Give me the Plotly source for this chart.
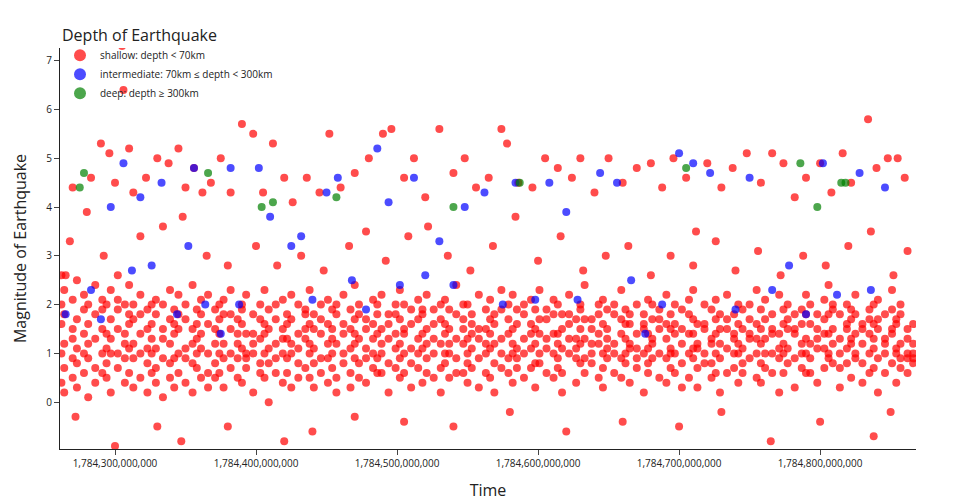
import plotly.graph_objects as go

# time offsets in units of 1e6 above 1,784,000,000,000 ; magnitudes
BASE = 1784e9

shallow_t = [265, 270, 283, 290, 296, 300, 305, 306, 310, 313, 322, 330, 338, 345, 350, 356, 362, 368, 375, 382,
             390, 398, 405, 412, 420, 426, 436, 445, 452, 460, 470, 480, 490, 496, 505, 512, 520, 530, 540, 548,
             556, 565, 574, 578, 586, 596, 605, 614, 624, 630, 640, 650, 660, 670, 680, 688, 696, 705, 712, 720,
             730, 738, 748, 758, 766, 774, 782, 790, 800, 808, 816, 822, 834, 840, 848, 855, 860,
             268, 280, 292, 302, 318, 334, 348, 365, 380, 400, 415, 432, 448, 466, 478, 492, 508, 522, 536, 552,
             568, 584, 600, 616, 632, 648, 664, 680, 694, 710, 726, 740, 756, 772, 788, 804, 820, 836, 852, 862,
             272, 300, 330, 347, 380, 420, 440, 470, 505, 540, 580, 620, 660, 700, 730, 765, 800, 838, 850]
shallow_m = [2.6, 4.4, 4.6, 5.3, 5.1, 4.5, 7.3, 6.4, 5.2, 4.3, 4.6, 5.0, 4.9, 5.2, 4.4, 4.8, 4.3, 4.5, 5.0, 4.3,
             5.7, 5.5, 4.3, 5.3, 4.6, 4.1, 4.6, 4.3, 5.5, 4.4, 4.7, 5.0, 5.5, 5.6, 4.6, 5.0, 4.2, 5.6, 4.7, 5.0,
             4.4, 4.6, 5.6, 5.3, 4.5, 4.4, 5.0, 4.8, 4.6, 5.0, 4.3, 5.0, 4.5, 4.8, 4.9, 4.4, 5.0, 4.6, 3.5, 4.9,
             4.4, 4.8, 5.1, 4.5, 5.1, 4.9, 4.2, 4.6, 4.9, 4.3, 5.1, 4.5, 5.8, 4.8, 5.0, 5.0, 4.6,
             3.3, 3.9, 3.0, 2.6, 3.4, 3.6, 3.8, 3.0, 2.8, 3.2, 2.8, 3.0, 2.7, 3.2, 3.5, 2.9, 3.4, 3.6, 3.0, 2.7,
             3.2, 3.8, 2.9, 3.4, 2.7, 3.0, 3.2, 2.6, 3.0, 2.8, 3.3, 2.7, 3.1, 2.6, 3.0, 2.8, 3.2, 3.5, 2.6, 3.1,
             -0.3, -0.9, -0.5, -0.8, -0.5, -0.8, -0.6, -0.3, -0.4, -0.5, -0.2, -0.6, -0.4, -0.5, -0.2, -0.8, -0.4, -0.7, -0.2]

# dense low-magnitude band: each row is a time followed by magnitudes read around it
dense_rows = """
262 1.0 2.6 0.4 1.6 2.0
264 0.7 1.8 1.2 2.3 0.2
270 1.5 0.9 2.1 0.5 1.3
273 0.3 1.7 1.1 2.5 0.8
278 1.9 0.6 1.4 2.2 1.0
281 0.9 2.0 1.6 0.1 1.2
286 1.3 0.4 2.4 1.8 0.7
291 2.1 1.0 0.6 1.5 1.9
294 0.5 1.4 1.1 2.0 0.8
297 1.7 0.2 1.3 2.3 1.0
302 1.0 1.9 0.7 1.5 2.1
307 1.4 0.9 2.0 0.4 1.2
310 0.6 1.6 1.1 1.8 2.4
313 1.2 0.3 1.7 0.9 2.0
318 1.8 1.0 1.4 2.2 0.5
323 0.8 1.5 0.2 1.9 1.1
326 1.6 2.0 1.0 0.6 1.3
329 1.1 0.7 1.8 2.1 0.4
334 2.0 1.3 0.9 1.5 0.1
339 0.5 1.7 1.2 2.3 0.8
342 1.4 0.9 1.9 0.3 1.6
345 1.0 2.2 1.5 0.6 1.8
350 1.7 0.4 1.1 2.0 0.9
355 0.8 1.5 2.4 1.2 0.2
358 1.3 1.9 0.7 1.6 1.0
361 2.1 1.1 0.5 1.4 1.8
366 0.6 1.6 1.0 2.2 0.3
371 1.5 0.8 1.9 1.2 0.5
374 1.0 2.0 1.4 0.6 1.7
377 1.8 0.3 1.2 2.1 0.9
382 0.7 1.5 1.0 1.8 2.3
387 1.2 0.5 1.7 0.9 1.4
390 1.9 1.1 0.4 1.6 2.0
393 0.9 1.4 2.2 0.7 1.0
398 1.4 0.2 1.0 1.8 1.2
403 0.6 1.7 1.3 2.0 0.8
406 1.6 1.0 0.5 1.4 2.3
409 1.1 1.9 0.8 1.5 0.0
414 2.0 0.6 1.2 1.7 0.9
419 0.4 1.5 1.0 2.1 1.3
422 1.3 0.9 1.8 0.6 1.6
425 1.7 1.2 0.3 2.2 1.0
430 0.8 2.0 1.4 1.1 0.5
435 1.5 0.7 1.9 1.3 1.8
438 1.0 1.6 0.5 2.3 1.2
441 1.8 0.3 1.1 1.5 0.8
446 0.6 1.4 2.0 0.9 1.7
451 1.2 0.9 1.6 2.1 0.4
454 1.9 1.3 0.7 1.5 1.0
457 0.5 1.8 1.2 0.2 2.0
462 1.4 1.0 2.2 0.8 1.6
467 1.1 0.6 1.5 1.9 0.3
470 1.7 1.2 0.9 2.4 1.4
473 0.8 2.0 1.3 0.5 1.8
478 1.5 0.4 1.7 1.1 0.9
483 1.0 1.6 2.1 0.7 1.3
486 2.0 0.9 1.4 1.8 0.6
489 0.6 1.5 1.0 2.2 1.2
494 1.3 0.2 1.8 1.6 0.8
499 1.8 1.1 0.7 1.4 2.0
502 0.9 1.7 1.2 2.3 0.5
505 1.5 0.6 2.0 1.0 1.4
510 1.1 1.9 0.8 1.6 0.3
515 1.7 1.3 1.0 2.1 0.7
518 0.4 1.4 1.8 1.1 1.9
521 1.2 0.9 2.2 0.6 1.5
526 1.9 1.6 0.5 1.3 1.0
531 0.7 1.2 1.7 2.0 0.2
534 1.4 2.1 1.0 0.8 1.6
537 1.0 0.5 1.5 1.9 1.2
542 1.8 1.3 0.9 2.4 0.6
547 0.6 1.7 1.2 1.5 2.0
550 1.3 0.8 2.0 1.0 0.4
553 1.6 1.4 0.7 1.8 1.1
558 0.9 2.2 1.5 0.3 1.3
563 1.5 1.0 1.9 1.2 0.6
566 1.1 0.5 1.4 2.1 1.7
569 1.8 1.2 0.8 1.6 0.2
574 0.7 1.9 1.3 1.0 2.3
579 1.4 0.6 1.7 2.0 0.9
582 1.0 1.5 2.2 0.4 1.2
585 1.9 0.9 1.1 1.6 0.7
590 0.5 1.3 1.8 1.0 2.0
595 1.6 2.1 0.7 1.4 1.1
598 1.2 0.3 1.5 1.9 0.8
601 0.8 1.7 1.0 2.3 1.4
606 1.7 1.1 0.6 1.3 1.9
611 1.0 1.8 1.4 0.5 2.1
614 1.4 0.7 2.0 1.2 0.9
617 0.6 1.5 1.1 1.8 0.2
622 1.8 1.0 1.6 2.2 1.3
627 1.1 0.4 1.3 0.9 1.7
630 1.5 1.9 0.8 2.0 1.2
633 0.9 1.3 1.7 0.6 2.4
638 1.7 0.8 1.2 1.5 1.0
643 1.2 2.0 0.5 1.4 1.8
646 0.7 1.6 1.0 2.1 0.3
649 1.9 1.1 1.5 0.9 1.3
654 1.0 0.6 1.8 1.2 2.0
659 1.4 1.7 0.9 2.3 0.5
662 0.8 1.3 1.6 1.0 1.9
665 1.6 0.4 1.2 1.8 1.1
670 1.1 2.0 0.7 1.4 0.9
675 1.8 1.0 1.5 0.2 1.6
678 0.6 1.4 2.1 1.1 0.8
681 1.3 0.9 1.7 2.0 1.2
686 1.7 1.5 0.5 1.0 1.9
691 0.9 2.2 1.3 1.6 0.4
694 1.5 0.7 1.1 1.8 1.0
697 1.0 1.6 2.0 0.6 1.4
702 1.9 1.2 0.8 1.5 0.3
707 0.5 1.8 1.4 1.0 2.1
710 1.4 0.9 1.7 2.3 1.1
713 1.1 0.3 1.2 1.6 0.7
718 1.6 2.0 1.0 0.8 1.5
723 0.8 1.3 1.9 1.2 0.5
726 1.7 0.6 1.4 2.1 1.0
729 1.2 1.8 0.9 1.5 0.2
734 0.6 1.5 2.2 1.1 1.7
739 1.8 1.0 0.7 1.4 1.3
742 1.0 2.0 1.6 0.4 1.2
745 1.5 0.8 1.1 1.9 0.6
750 0.9 1.4 2.0 1.3 1.7
755 1.3 0.5 1.6 1.0 2.3
758 1.9 1.2 0.8 1.5 0.4
761 0.7 1.7 1.3 2.1 1.0
766 1.4 1.0 1.8 0.6 1.5
771 1.1 2.2 0.9 1.4 0.2
774 1.6 0.6 1.2 1.9 1.0
777 0.8 1.5 2.0 1.1 1.7
782 1.5 0.9 1.4 0.3 1.8
787 1.0 1.9 0.7 1.6 1.2
790 1.8 1.3 1.0 2.2 0.6
793 0.6 1.6 1.2 0.9 2.0
798 1.3 0.4 1.8 1.5 1.1
803 1.7 2.1 1.1 0.7 1.4
806 1.0 1.4 2.4 1.8 0.9
809 1.9 0.8 1.5 1.2 2.0
814 0.7 1.8 1.3 1.0 0.3
819 1.5 1.1 2.0 1.6 0.8
822 1.2 0.5 1.7 1.3 1.9
825 1.8 1.4 0.9 2.2 1.0
830 0.8 1.6 1.2 0.4 1.5
835 1.4 1.0 1.9 1.7 0.6
838 1.1 2.0 0.7 1.3 1.6
841 1.7 0.9 1.5 2.1 0.2
846 0.6 1.3 1.0 1.8 1.2
851 1.5 1.9 0.8 1.4 2.3
854 1.0 0.4 1.6 1.1 1.7
857 1.8 1.2 0.9 2.0 0.7
862 0.9 1.5 1.3 0.6 1.0
866 1.2 0.8 1.6 1.0 0.9
"""

intermediate_t = [265, 283, 290, 297, 306, 312, 318, 326, 333, 344, 352, 356, 364, 375, 382, 388, 402, 410, 425,
                  432, 440, 450, 458, 468, 478, 486, 494, 502, 512, 520, 530, 540, 548, 562, 575, 584, 598, 608,
                  620, 628, 644, 656, 666, 676, 688, 700, 710, 722, 740, 750, 766, 778, 790, 802, 812, 828, 836, 846]
intermediate_m = [1.8, 2.3, 1.7, 4.0, 4.9, 2.7, 4.2, 2.8, 4.5, 1.8, 3.2, 4.8, 2.0, 1.4, 4.8, 2.0, 4.8, 3.8, 3.2,
                  3.4, 2.1, 4.3, 4.6, 2.5, 1.9, 5.2, 4.1, 2.4, 4.6, 2.6, 3.3, 2.4, 4.0, 4.3, 2.0, 4.5, 2.1, 4.5,
                  3.9, 2.1, 4.7, 4.5, 2.5, 1.4, 2.0, 5.1, 4.9, 4.7, 1.9, 4.6, 2.3, 2.8, 1.8, 4.9, 2.2, 4.7, 2.3, 4.4]

deep_t = [275, 278, 366, 404, 412, 457, 540, 587, 705, 786, 798, 815, 818]
deep_m = [4.4, 4.7, 4.7, 4.0, 4.1, 4.2, 4.0, 4.5, 4.8, 4.9, 4.0, 4.5, 4.5]

for row in dense_rows.strip().splitlines():
    vals = [float(v) for v in row.split()]
    for m in vals[1:]:
        shallow_t.append(vals[0])
        shallow_m.append(m)

series = [
    ("shallow: depth < 70km", shallow_t, shallow_m, "red"),
    ("intermediate: 70km ≤ depth < 300km", intermediate_t, intermediate_m, "blue"),
    ("deep: depth ≥ 300km", deep_t, deep_m, "green"),
]

fig = go.Figure()
for name, t, m, color in series:
    fig.add_trace(go.Scatter(
        x=[BASE + v * 1e6 for v in t], y=m, mode="markers", name=name,
        marker=dict(color=color, size=8, opacity=0.7, line=dict(width=0)),
    ))

fig.update_layout(
    width=960, height=500,
    paper_bgcolor="white", plot_bgcolor="white",
    font=dict(family="Open Sans", color="#222"),
    margin=dict(l=48, r=52, t=38, b=49),
    showlegend=True,
    legend=dict(x=0.0, y=1.07, xanchor="left", yanchor="top", bgcolor="rgba(0,0,0,0)",
                title=dict(text="Depth of Earthquake", font=dict(size=16)),
                font=dict(size=10), itemsizing="constant", tracegroupgap=0),
    xaxis=dict(title=dict(text="Time", font=dict(size=16)),
               range=[BASE + 261e6, BASE + 868e6], tickformat=",d", dtick=100e6,
               showgrid=False, zeroline=False, showline=True, linecolor="#222",
               ticks="outside", ticklen=5, tickfont=dict(size=10)),
    yaxis=dict(title=dict(text="Magnitude of Earthquake", font=dict(size=16)),
               range=[-0.96, 7.26], dtick=1, showgrid=False, zeroline=False,
               showline=True, linecolor="#222", ticks="outside", ticklen=5,
               tickfont=dict(size=10)),
)

fig.write_html("out.html")
